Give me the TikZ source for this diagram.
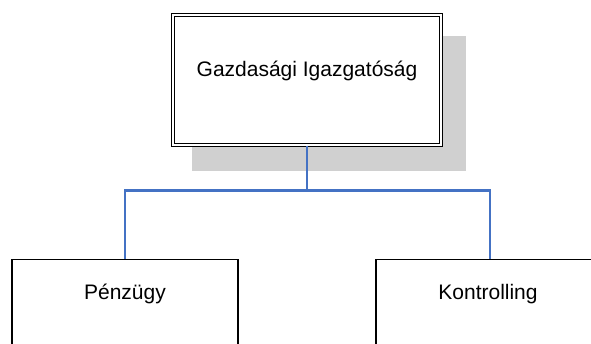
\documentclass[tikz,border=0pt]{standalone}
\usepackage{fontspec}
\setmainfont{Liberation Sans}
\usetikzlibrary{positioning, backgrounds, calc}

\definecolor{linkblue}{RGB}{68,114,196}
\definecolor{shadowgray}{RGB}{208,208,208}

\tikzset{
	unitbox/.style={draw, fill=white, line width=1.5pt, inner sep=0pt, font=\fontsize{21}{25}\selectfont},
	headbox/.style={unitbox, double, double distance=2.4pt, line width=1.1pt,
		minimum width=268pt, minimum height=130pt, text height=15pt, text depth=21pt},
	subbox/.style={unitbox, anchor=north, text height=40pt, text depth=60pt},
	link/.style={linkblue, line width=2.6pt}
}

\begin{document}
\begin{tikzpicture}[x=1pt, y=-1pt]
	\useasboundingbox (0,0) rectangle (591,344);
	% fonok
	\node[headbox] (gig) at (307,80) {Gazdasági Igazgatóság};
	\begin{scope}[on background layer]
		\fill[shadowgray] ($(gig.north west)+(20,22)$) rectangle ($(gig.south east)+(24,25)$);
	\end{scope}
	% osztalyok
	\node[subbox, minimum width=226pt] (penz) at (125,259) {Pénzügy};
	\node[subbox, minimum width=224pt] (kontr) at (488,259) {Kontrolling};
	\coordinate (fork) at ($(gig.south)+(0,45)$);
	\draw[link] (gig.south) -- (fork);
	\draw[link] (fork) -| (penz.north);
	\draw[link] (fork) -| ([xshift=2pt]kontr.north);
\end{tikzpicture}
\end{document}
